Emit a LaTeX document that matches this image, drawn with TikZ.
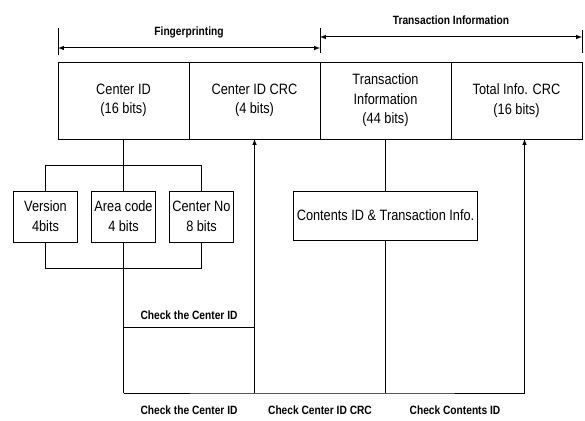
\documentclass[tikz,border=0pt]{standalone}
\usepackage{fontspec}
\setmainfont{Liberation Sans}[FakeStretch=0.85]
\usetikzlibrary{positioning, calc}

\begin{document}
\begin{tikzpicture}[
    x=1pt, y=-1pt,                    % pixel-like grid, y going down
    line width=1pt,
    >=latex,
    field_node/.style={rectangle, draw, outer sep=0pt, minimum width=131pt, minimum height=77pt, align=center, font=\fontsize{15}{19.5}\selectfont},
    part_node/.style={rectangle, draw, outer sep=0pt, minimum width=64pt, minimum height=51pt, inner sep=1pt, align=center, font=\fontsize{15}{20}\selectfont},
    tag_text/.style={font=\fontsize{12}{13}\selectfont\bfseries, inner sep=1pt}
    ]
    \useasboundingbox (0,0) rectangle (585,420);

    % Fields of the code
    \node[field_node] (cid) at (123.5,100.5) {Center ID\\(16 bits)};
    \node[field_node, right=0pt of cid] (ccrc) {Center ID CRC\\(4 bits)};
    \node[field_node, right=0pt of ccrc] (tinfo) {Transaction\\Information\\(44 bits)};
    \node[field_node, right=0pt of tinfo] (tcrc) {Total Info. CRC\\(16 bits)};

    % Parts of the center ID
    \node[part_node, below=52pt of cid] (area) {Area code\\4 bits};
    \node[part_node, left=14pt of area] (ver) {Version\\4bits};
    \node[part_node, right=14pt of area] (cno) {Center No\\8 bits};
    \node[part_node, minimum width=184pt, minimum height=49pt, below=52pt of tinfo] (cont) {Contents ID \& Transaction Info.};

    % Brackets above the fields
    \draw ([yshift=7pt]cid.north west) -- ([yshift=34pt]cid.north west);
    \draw ([yshift=9pt]tinfo.north west) -- ([yshift=34pt]tinfo.north west);
    \draw ([yshift=9pt]tcrc.north east) -- ([yshift=32pt]tcrc.north east);
    \draw[<->] ([yshift=14pt]cid.north west) -- node[tag_text, above=8pt] {Fingerprinting} ([yshift=14pt]ccrc.north east);
    \draw[<->] ([yshift=25pt]tinfo.north west) -- node[tag_text, above=11pt] {Transaction Information} ([yshift=25pt]tcrc.north east);

    % Center ID split into its parts
    \draw (cid.south) -- (area.north);
    \draw (ver.north) -- ++(0,-26) -| (cno.north);
    \draw (ver.south) -- ++(0,26) -| (cno.south);

    % Checks
    \coordinate (base) at (0,393);
    \coordinate (chk_line) at (0,327);
    \coordinate (crc_in) at ([xshift=8pt]tcrc.south);
    \coordinate (chk_a) at (area.south |- base);
    \coordinate (chk_b) at (ccrc.south |- base);
    \coordinate (chk_c) at (tinfo.south |- base);
    \coordinate (chk_d) at (crc_in |- base);
    \draw (area.south) -- (chk_a);
    \draw (area.south |- chk_line) -- node[tag_text, above=6pt] {Check the Center ID} (ccrc.south |- chk_line);
    \draw (chk_a) -- node[tag_text, below=11pt] {Check the Center ID}
          (chk_b) -- node[tag_text, below=11pt] {Check Center ID CRC}
          (chk_c) -- node[tag_text, below=11pt] {Check Contents ID} (chk_d);
    \draw[->] (chk_b) -- (ccrc.south);
    \draw[->] (chk_d) -- (crc_in);
    \draw (tinfo.south) -- (cont.north);
    \draw (cont.south) -- (chk_c);
\end{tikzpicture}
\end{document}
